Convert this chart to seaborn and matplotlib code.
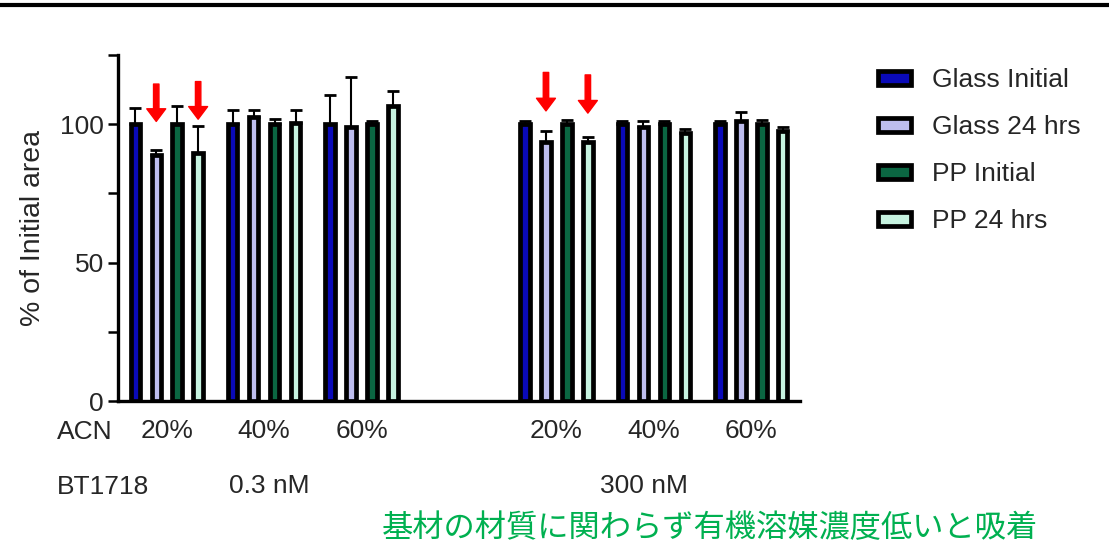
import matplotlib
matplotlib.use("Agg")
import matplotlib.pyplot as plt
import matplotlib.patches as mpatches
from matplotlib.lines import Line2D
from matplotlib.ticker import MultipleLocator
import pandas as pd
import seaborn as sns

SERIES = ["Glass Initial", "Glass 24 hrs", "PP Initial", "PP 24 hrs"]
COLORS = ["#0A0AB8", "#BDBDEE", "#0B6642", "#C6F3E0"]
GROUPS = ["0.3 nM 20%", "0.3 nM 40%", "0.3 nM 60%", "300 nM 20%", "300 nM 40%", "300 nM 60%"]
ORDER = ["0.3 nM 20%", "0.3 nM 40%", "0.3 nM 60%", "", "300 nM 20%", "300 nM 40%", "300 nM 60%"]
TICK_LABELS = ["20%", "40%", "60%", "", "20%", "40%", "60%"]

glass_initial = [100, 100, 100, 100, 100, 100]
glass_24 = [89.0, 102.5, 99.0, 93.5, 99.0, 101.0]
pp_initial = [100, 100, 100, 100, 100, 100]
pp_24 = [89.5, 100.5, 106.5, 93.5, 97.0, 97.5]

sd_glass_initial = [6.0, 5.0, 10.5, 1.0, 1.0, 1.2]
sd_glass_24 = [1.5, 2.8, 18.0, 4.0, 2.0, 3.5]
sd_pp_initial = [6.5, 2.0, 1.0, 1.5, 1.2, 1.5]
sd_pp_24 = [10.0, 4.5, 5.5, 2.0, 1.2, 1.5]

# red arrows: (group, series, tail y, tip y)
ARROWS = [
    ("0.3 nM 20%", "Glass 24 hrs", 114.5, 101.0),
    ("0.3 nM 20%", "PP 24 hrs", 115.4, 101.8),
    ("300 nM 20%", "Glass 24 hrs", 118.7, 104.8),
    ("300 nM 20%", "PP 24 hrs", 117.8, 104.0),
]

values = [glass_initial, glass_24, pp_initial, pp_24]
sds = [sd_glass_initial, sd_glass_24, sd_pp_initial, sd_pp_24]
rows = []
for s, vals, errs in zip(SERIES, values, sds):
    for g, v, e in zip(GROUPS, vals, errs):
        rows.append({"group": g, "series": s, "value": v, "sd": e})
df = pd.DataFrame(rows)

FS = 19

sns.set_theme(style="ticks")
plt.rcParams["font.family"] = ["Liberation Sans", "DejaVu Sans"]
plt.rcParams["font.size"] = FS

fig = plt.figure(figsize=(11.09, 5.6), dpi=100)
ax = fig.add_axes([0.1064, 0.2839, 0.615, 0.6179])

sns.barplot(
    data=df, x="group", y="value", hue="series", order=ORDER, hue_order=SERIES,
    palette=COLORS, width=0.86, gap=0.55, errorbar=None, edgecolor="black",
    linewidth=3.4, saturation=1, legend=False, ax=ax, zorder=3,
)

# error bars (upper only) and bar centre lookup
bar_x = {}
for s, cont in zip(SERIES, ax.containers):
    for bar in cont:
        xc = bar.get_x() + bar.get_width() / 2
        g = ORDER[int(round(xc))]
        bar_x[(g, s)] = xc
for _, r in df.iterrows():
    xc = bar_x[(r["group"], r["series"])]
    ax.errorbar(xc, r["value"], yerr=[[0], [r["sd"]]], fmt="none", ecolor="black",
                elinewidth=1.5, capsize=4, capthick=2, zorder=2)

for g, s, tail, tip in ARROWS:
    xc = bar_x[(g, s)]
    ax.annotate("", xy=(xc, tip), xytext=(xc, tail),
                arrowprops=dict(arrowstyle="simple,head_length=0.7,head_width=1.05,tail_width=0.3",
                                color="red", shrinkA=0, shrinkB=0, mutation_scale=13),
                zorder=5)

ax.set_xlim(-0.5, 6.5)
ax.set_ylim(0, 125)
ax.yaxis.set_major_locator(MultipleLocator(50))
ax.yaxis.set_minor_locator(MultipleLocator(25))
ax.tick_params(axis="y", which="both", length=7, width=1.8, labelsize=FS, pad=3, color="black")
ax.tick_params(axis="x", length=0, labelsize=FS, pad=13)
ax.set_xticks(range(len(ORDER)))
ax.set_xticklabels(TICK_LABELS)
ax.set_xlabel("")
ax.set_ylabel("% of Initial area", fontsize=20.5, labelpad=10)
sns.despine(ax=ax)
for side in ["left", "bottom"]:
    ax.spines[side].set_linewidth(2.4)
    ax.spines[side].set_color("black")

trans = ax.get_xaxis_transform()
fig.text(57 / 1109, 1 - 432 / 560, "ACN", fontsize=FS, ha="left", va="center")
fig.text(57 / 1109, 1 - 487 / 560, "BT1718", fontsize=FS, ha="left", va="center")
ax.text(1.05, -0.245, "0.3 nM", transform=trans, fontsize=FS, ha="center", va="center")
ax.text(4.9, -0.245, "300 nM", transform=trans, fontsize=FS, ha="center", va="center")

handles = [mpatches.Patch(facecolor=c, edgecolor="black", linewidth=3.4, label=s)
           for s, c in zip(SERIES, COLORS)]
fig.legend(handles=handles, loc="upper left", bbox_to_anchor=(0.782, 0.897), frameon=False,
           fontsize=FS, handlelength=1.25, handleheight=0.42, handletextpad=0.8,
           labelspacing=0.87, borderaxespad=0)

fig.text(0.6405, 1 - 528 / 560, "基材の材質に関わらず有機溶媒濃度低いと吸着", color="#00B050",
         fontsize=22.5, ha="center", va="center", family=["Noto Sans CJK JP", "DejaVu Sans"])

fig.add_artist(Line2D([0, 1], [1 - 5 / 560, 1 - 5 / 560], color="black", linewidth=3,
                      transform=fig.transFigure))

fig.savefig("out.png", dpi=100)
